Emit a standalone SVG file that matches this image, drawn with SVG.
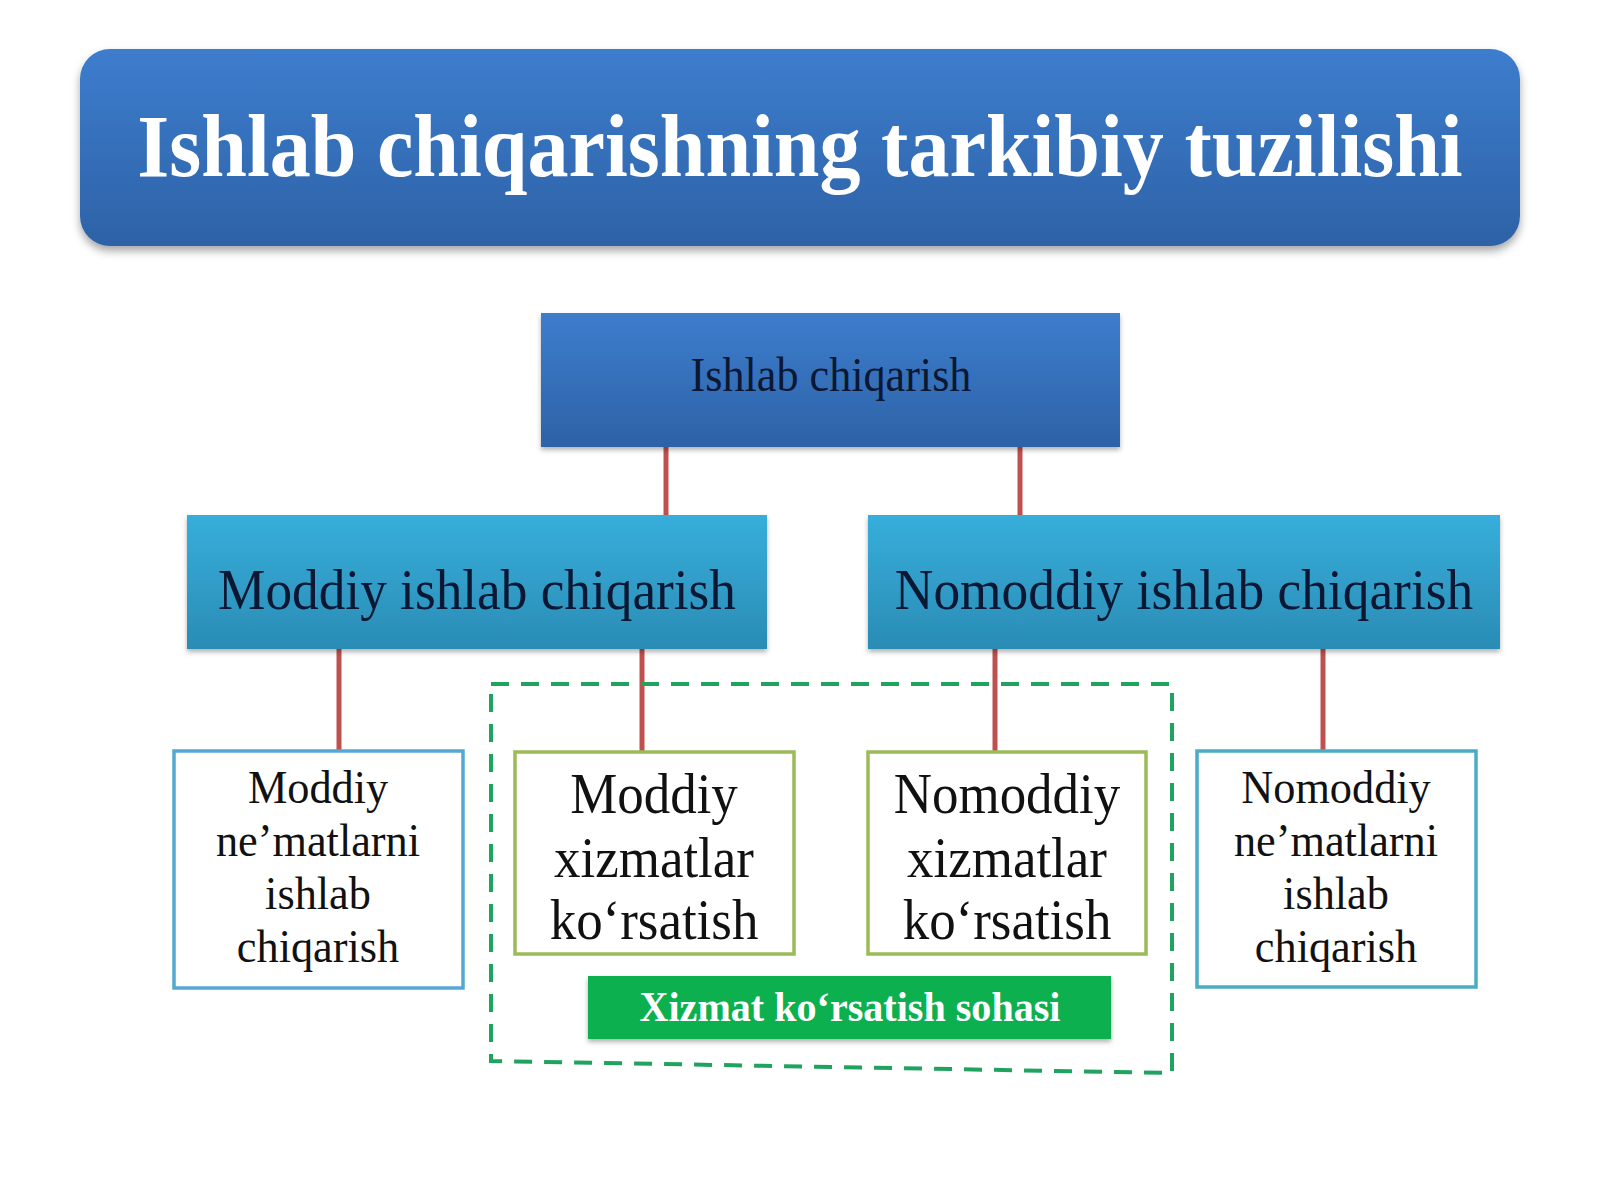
<svg xmlns="http://www.w3.org/2000/svg" width="1600" height="1200" viewBox="0 0 1600 1200">
  <defs>
    <linearGradient id="gBlue" x1="0" y1="0" x2="0" y2="1">
      <stop offset="0" stop-color="#3D7DCD"/>
      <stop offset="1" stop-color="#2D62A7"/>
    </linearGradient>
    <linearGradient id="gCyan" x1="0" y1="0" x2="0" y2="1">
      <stop offset="0" stop-color="#37AEDB"/>
      <stop offset="1" stop-color="#2A8CB5"/>
    </linearGradient>
    <filter id="sh" x="-5%" y="-10%" width="110%" height="130%">
      <feDropShadow dx="0" dy="5" stdDeviation="4" flood-color="#000" flood-opacity="0.35"/>
    </filter>
    <filter id="shs" x="-5%" y="-10%" width="110%" height="130%">
      <feDropShadow dx="0" dy="3" stdDeviation="2.5" flood-color="#000" flood-opacity="0.3"/>
    </filter>
  </defs>
  <style>
    .serif { font-family: "Liberation Serif", "Times New Roman", serif; }
    .title { font-size: 88px; font-weight: bold; fill: #FFFFFF; }
    .top { font-size: 48px; fill: #0B1733; }
    .mid { font-size: 57px; fill: #0B1733; }
    .side { font-size: 46px; fill: #111111; }
    .serv { font-size: 56px; fill: #111111; }
    .lab { font-size: 42px; font-weight: bold; fill: #FFFFFF; }
    .conn { stroke: #C0504D; stroke-width: 5; fill: none; }
    .sidebox { fill: #FFFFFF; stroke-width: 3.5; }
    .servbox { fill: #FFFFFF; stroke: #9BBB59; stroke-width: 3.5; }
  </style>
  <rect x="0" y="0" width="1600" height="1200" fill="#FFFFFF"/>

  <g id="title">
    <rect x="80" y="49" width="1440" height="197" rx="30" ry="30" fill="url(#gBlue)" filter="url(#sh)"/>
    <text class="serif title" text-anchor="middle" transform="translate(800 176) scale(0.933 1)" x="0" y="0">Ishlab chiqarishning tarkibiy tuzilishi</text>
  </g>

  <g id="connectors">
    <line class="conn" x1="666" y1="447" x2="666" y2="515"/>
    <line class="conn" x1="1020" y1="447" x2="1020" y2="515"/>
    <line class="conn" x1="339" y1="649" x2="339" y2="751"/>
    <line class="conn" x1="642" y1="649" x2="642" y2="752"/>
    <line class="conn" x1="995" y1="649" x2="995" y2="752"/>
    <line class="conn" x1="1323" y1="649" x2="1323" y2="751"/>
  </g>

  <g id="service-area">
    <path d="M491,684 L1172,684 L1172,1073 L491,1061 Z" fill="none" stroke="#1FA35E" stroke-width="4" stroke-dasharray="18 12"/>
  </g>

  <g id="node-top">
    <rect x="541" y="313" width="579" height="134" fill="url(#gBlue)" filter="url(#shs)"/>
    <text class="serif top" text-anchor="middle" transform="translate(831 391) scale(0.92 1)" x="0" y="0">Ishlab chiqarish</text>
  </g>

  <g id="node-moddiy">
    <rect x="187" y="515" width="580" height="134" fill="url(#gCyan)" filter="url(#shs)"/>
    <text class="serif mid" text-anchor="middle" transform="translate(477 609) scale(0.935 1)" x="0" y="0">Moddiy ishlab chiqarish</text>
  </g>

  <g id="node-nomoddiy">
    <rect x="868" y="515" width="632" height="134" fill="url(#gCyan)" filter="url(#shs)"/>
    <text class="serif mid" text-anchor="middle" transform="translate(1184 609) scale(0.937 1)" x="0" y="0">Nomoddiy ishlab chiqarish</text>
  </g>

  <g id="node-moddiy-nematlar">
    <rect class="sidebox" x="174" y="751" width="289" height="237" stroke="#55A8D2"/>
    <text class="serif side" text-anchor="middle" transform="translate(318 0) scale(0.963 1)"><tspan x="0" y="803">Moddiy</tspan><tspan x="0" y="856">ne’matlarni</tspan><tspan x="0" y="909">ishlab</tspan><tspan x="0" y="962">chiqarish</tspan></text>
  </g>

  <g id="node-moddiy-xizmatlar">
    <rect class="servbox" x="515" y="752" width="279" height="202"/>
    <text class="serif serv" text-anchor="middle" transform="translate(654 0) scale(0.945 1)"><tspan x="0" y="813">Moddiy</tspan><tspan x="0" y="877">xizmatlar</tspan><tspan x="0" y="939">ko‘rsatish</tspan></text>
  </g>

  <g id="node-nomoddiy-xizmatlar">
    <rect class="servbox" x="868" y="752" width="278" height="202"/>
    <text class="serif serv" text-anchor="middle" transform="translate(1007 0) scale(0.945 1)"><tspan x="0" y="813">Nomoddiy</tspan><tspan x="0" y="877">xizmatlar</tspan><tspan x="0" y="939">ko‘rsatish</tspan></text>
  </g>

  <g id="node-nomoddiy-nematlar">
    <rect class="sidebox" x="1197" y="751" width="279" height="236" stroke="#4BACC6"/>
    <text class="serif side" text-anchor="middle" transform="translate(1336 0) scale(0.963 1)"><tspan x="0" y="803">Nomoddiy</tspan><tspan x="0" y="856">ne’matlarni</tspan><tspan x="0" y="909">ishlab</tspan><tspan x="0" y="962">chiqarish</tspan></text>
  </g>

  <g id="label-xizmat">
    <rect x="588" y="976" width="523" height="63" fill="#0DB04F" filter="url(#shs)"/>
    <text class="serif lab" text-anchor="middle" transform="translate(850 1021) scale(0.955 1)" x="0" y="0">Xizmat ko‘rsatish sohasi</text>
  </g>
</svg>
